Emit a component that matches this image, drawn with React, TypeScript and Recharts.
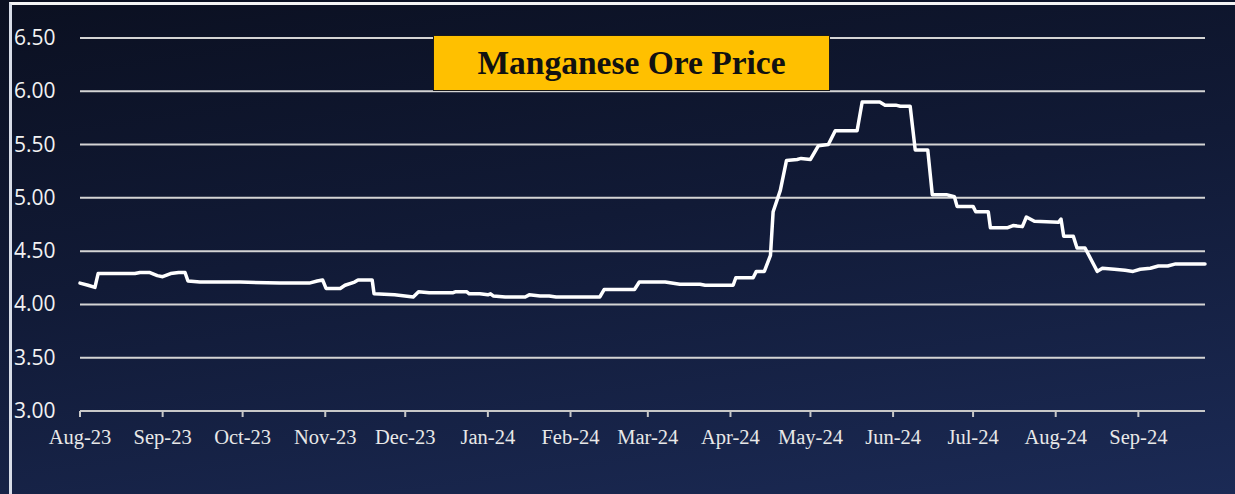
import React from "react";
import { LineChart, Line, XAxis, YAxis, CartesianGrid } from "recharts";

// day offsets counted from 1 Aug 2023
const days = [
  0, 3, 5.6, 6.8, 20.6, 22.5, 26, 29, 31, 34, 37, 39.4, 40.5, 45, 60, 75, 86, 89, 91, 92.3,
  97.6, 99.4, 103, 104.3, 109.6, 110.3, 118, 125, 127, 131, 140, 141, 145, 146, 150, 153, 154,
  155, 159.5, 167, 168.5, 172.6, 176, 178.6, 195, 196.6, 208, 209.8, 219.5, 225, 232.6, 234.5,
  245, 246, 252.5, 253.7, 256.7, 259, 260, 262.7, 265, 269, 270.5, 274, 277, 280.7, 283.3,
  291.5, 293.4, 300, 302, 306, 307.7, 311.4, 313.3, 318, 319.7, 325, 328, 329, 335, 336, 340.7,
  341.5, 348, 350, 353.5, 355, 358, 367, 368, 369, 372.6, 374, 377, 379.7, 381.6, 383.5, 388,
  392, 395, 397.7, 401.5, 404.5, 408, 411, 422,
];

const prices = [
  4.2, 4.18, 4.16, 4.29, 4.29, 4.3, 4.3, 4.27, 4.26, 4.29, 4.3, 4.3, 4.22, 4.21, 4.21, 4.2, 4.2,
  4.22, 4.23, 4.15, 4.15, 4.18, 4.21, 4.23, 4.23, 4.1, 4.09, 4.07, 4.12, 4.11, 4.11, 4.12, 4.12,
  4.1, 4.1, 4.09, 4.1, 4.08, 4.07, 4.07, 4.09, 4.08, 4.08, 4.07, 4.07, 4.14, 4.14, 4.21, 4.21,
  4.19, 4.19, 4.18, 4.18, 4.25, 4.25, 4.31, 4.31, 4.46, 4.87, 5.07, 5.35, 5.36, 5.37, 5.36, 5.49,
  5.5, 5.63, 5.63, 5.9, 5.9, 5.87, 5.87, 5.86, 5.86, 5.45, 5.45, 5.03, 5.03, 5.01, 4.92, 4.92,
  4.87, 4.87, 4.72, 4.72, 4.74, 4.73, 4.82, 4.78, 4.77, 4.8, 4.64, 4.64, 4.53, 4.53, 4.4, 4.31,
  4.34, 4.33, 4.32, 4.31, 4.33, 4.34, 4.36, 4.36, 4.38, 4.38,
];

const monthDays = [0, 31, 61, 92, 122, 153, 184, 213, 244, 274, 305, 335, 366, 397];
const monthLabels = [
  "Aug-23", "Sep-23", "Oct-23", "Nov-23", "Dec-23", "Jan-24", "Feb-24",
  "Mar-24", "Apr-24", "May-24", "Jun-24", "Jul-24", "Aug-24", "Sep-24",
];
const yTicks = [3, 3.5, 4, 4.5, 5, 5.5, 6, 6.5];

const data = days.map((d, i) => ({ day: d, price: prices[i] }));

const YTick = (props: any) => {
  const { y, payload } = props;
  return (
    <text x={14} y={y} dy={7} textAnchor="start" fill="#f2f2f2" fontSize={21} fontFamily="'Open Sans', sans-serif">
      {payload.value.toFixed(2)}
    </text>
  );
};

export default function App() {
  return (
    <div
      style={{
        position: "absolute",
        left: 0,
        top: 0,
        width: 1235,
        height: 494,
        background: "linear-gradient(172deg, #0b1021 0%, #111a36 45%, #1b2a55 100%)",
        overflow: "hidden",
      }}
    >
      <div
        style={{
          position: "absolute",
          left: 9,
          top: 2,
          width: 1240,
          height: 500,
          borderTop: "3px solid #f4f4f4",
          borderLeft: "3px solid #d8dde8",
        }}
      />
      <div style={{ position: "absolute", left: 0, top: 0 }}>
        <LineChart width={1235} height={494} data={data} margin={{ top: 38, right: 30, bottom: 43, left: 0 }}>
          <CartesianGrid vertical={false} stroke="#d4d4d4" strokeWidth={2} />
          <XAxis
            dataKey="day"
            type="number"
            domain={[0, 422]}
            ticks={monthDays}
            tickFormatter={(v: number) => monthLabels[monthDays.indexOf(v)]}
            height={40}
            axisLine={{ stroke: "#c8c8c8", strokeWidth: 2 }}
            tickLine={{ stroke: "#c8c8c8", strokeWidth: 2 }}
            tickSize={6}
            tickMargin={12}
            interval={0}
            tick={{ fill: "#e8e8e8", fontSize: 20.5, fontFamily: "'Liberation Serif', serif" }}
          />
          <YAxis
            type="number"
            domain={[3, 6.5]}
            ticks={yTicks}
            width={80}
            axisLine={false}
            tickLine={false}
            tick={<YTick />}
          />
          <Line
            type="linear"
            dataKey="price"
            stroke="#ffffff"
            strokeWidth={3.5}
            strokeLinejoin="round"
            strokeLinecap="round"
            dot={false}
            isAnimationActive={false}
          />
        </LineChart>
      </div>
      <div
        style={{
          position: "absolute",
          left: 433,
          top: 35,
          width: 395,
          height: 54,
          background: "#ffc000",
          border: "1px solid #1a1a1a",
          display: "flex",
          alignItems: "center",
          justifyContent: "center",
          fontFamily: "'Liberation Serif', serif",
          fontWeight: "bold",
          fontSize: 33.5,
          color: "#111111",
        }}
      >
        Manganese Ore Price
      </div>
    </div>
  );
}
